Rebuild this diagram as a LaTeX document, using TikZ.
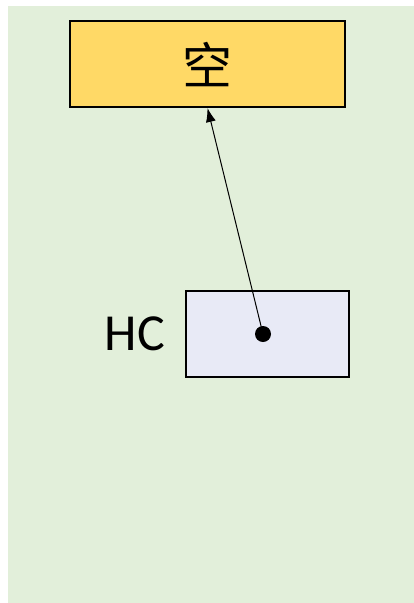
\documentclass[tikz,border=0pt]{standalone}
\usepackage{fontspec}
\setsansfont{Carlito}
\newfontfamily\cjk{Noto Sans CJK SC}
\usetikzlibrary{arrows.meta, positioning}

\definecolor{bggreen}{HTML}{E2EFDA}
\definecolor{boxyellow}{HTML}{FFD966}
\definecolor{boxlav}{HTML}{E8EAF6}

\begin{document}
\begin{tikzpicture}[x=1pt,y=-1pt,>={Latex[length=14pt,width=10pt]},
    box/.style={draw=black, line width=2pt, inner sep=0pt},
    bigtext/.style={font=\sffamily\fontsize{52}{56}\selectfont}]

    \useasboundingbox (0,0) rectangle (414,603);
    \fill[bggreen] (8,6) rectangle (414,603);

    \node[box, fill=boxyellow, minimum width=275pt, minimum height=86pt,
          font=\cjk\fontsize{50}{54}\selectfont] (empty) at (207.5,64) {空};
    \node[box, fill=boxlav, minimum width=163pt, minimum height=86pt] (hc) at (267.5,334) {};
    \node[bigtext, inner sep=0pt, left=20pt of hc] (hclabel) {HC};
    \node[circle, fill=black, inner sep=0pt, minimum size=16pt] (dot) at (263,334) {};

    \path[->, line width=1pt]
    (dot.center) edge (empty.south)
    ;
  \end{tikzpicture}
\end{document}
